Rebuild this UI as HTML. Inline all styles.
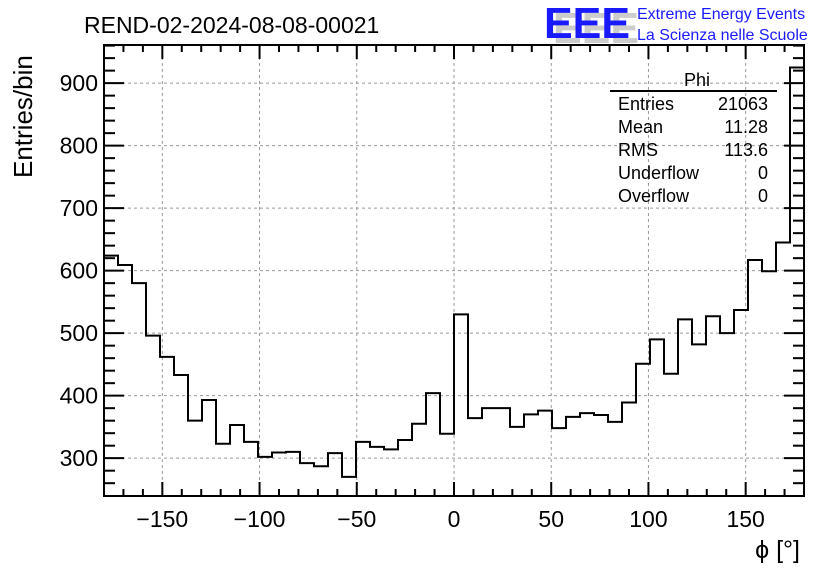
<!DOCTYPE html>
<html><head><meta charset="utf-8"><style>
html,body{margin:0;padding:0;background:#fff;}
svg{display:block;font-family:"Liberation Sans",Arial,sans-serif;}
</style></head><body>
<svg width="836" height="572" viewBox="0 0 836 572" xmlns="http://www.w3.org/2000/svg" id="chart">
<rect width="836" height="572" fill="#fff"/>
<text x="84" y="33" font-size="23">REND-02-2024-08-08-00021</text>
<g>
<text x="547" y="40" font-size="44" font-weight="bold" fill="#ccc" transform="translate(6,3)" textLength="86" lengthAdjust="spacingAndGlyphs">EEE</text>
<text x="544" y="38" font-size="44" font-weight="bold" fill="#1a1aff" textLength="86" lengthAdjust="spacingAndGlyphs">EEE</text>
<text x="637" y="19" font-size="16" fill="#1a1aff">Extreme Energy Events</text>
<text x="637" y="40" font-size="16" fill="#1a1aff">La Scienza nelle Scuole</text>
</g>
<g id="grid"></g>
<g id="hist"></g>
<g id="axes"></g>
<text transform="translate(32,178) rotate(-90)" font-size="26">Entries/bin</text>
<text x="800" y="558" font-size="25" text-anchor="end">ϕ [°]</text>
<g font-size="18">
<text x="697" y="86" text-anchor="middle">Phi</text>
<line x1="610" y1="91" x2="777" y2="91" stroke="#000" stroke-width="2"/>
<text x="618" y="110">Entries</text><text x="768" y="110" text-anchor="end">21063</text>
<text x="618" y="133">Mean</text><text x="768" y="133" text-anchor="end">11.28</text>
<text x="618" y="156">RMS</text><text x="768" y="156" text-anchor="end">113.6</text>
<text x="618" y="179">Underflow</text><text x="768" y="179" text-anchor="end">0</text>
<text x="618" y="202">Overflow</text><text x="768" y="202" text-anchor="end">0</text>
</g>
</svg>
<script>
const binEdgesMin = -180;
const binEdgesMax = 180;
const counts = [624,609,580,496,462,433,360,393,323,353,326,302,309,310,292,287,308,270,326,318,314,329,355,404,339,530,364,380,380,350,370,376,348,366,372,369,358,389,451,490,435,522,482,527,500,537,617,599,645,925];
const xTicks = [-150,-100,-50,0,50,100,150];
const yTicks = [300,400,500,600,700,800,900];
const L=104,R=804,T=45,B=496,YMIN=239.5,YMAX=961;
const NS="http://www.w3.org/2000/svg";
const sx=v=>L+(v-binEdgesMin)/(binEdgesMax-binEdgesMin)*(R-L);
const sy=v=>B-(v-YMIN)/(YMAX-YMIN)*(B-T);
function mk(tag,attrs,parent){const e=document.createElementNS(NS,tag);for(const k in attrs)e.setAttribute(k,attrs[k]);parent.appendChild(e);return e;}
const grid=document.getElementById('grid'),hist=document.getElementById('hist'),axes=document.getElementById('axes');
xTicks.forEach(v=>{const g=mk('line',{x1:sx(v),x2:sx(v),y1:T,y2:B,stroke:'#999','stroke-dasharray':'3,3','stroke-width':1},grid);

});
yTicks.forEach(v=>{const g=mk('line',{x1:L,x2:R,y1:sy(v),y2:sy(v),stroke:'#999','stroke-dasharray':'3,3','stroke-width':1},grid);

});
const n=counts.length,w=(binEdgesMax-binEdgesMin)/n;
let d='M'+sx(binEdgesMin)+','+B;
counts.forEach((c,i)=>{const x0=sx(binEdgesMin+i*w),x1=sx(binEdgesMin+(i+1)*w);d+=' L'+x0+','+sy(c)+' L'+x1+','+sy(c);});
d+=' L'+sx(binEdgesMax)+','+B;
const p=mk('path',{d:d,fill:'none',stroke:'#000','stroke-width':2},hist);


const fr=mk('rect',{x:L,y:T,width:R-L,height:B-T,fill:'none',stroke:'#000','stroke-width':2},axes);


for(let v=-180;v<=180;v+=10){const maj=v%50===0;const len=maj?14:7;
mk('line',{x1:sx(v),x2:sx(v),y1:B,y2:B-len,stroke:'#000','stroke-width':2},axes);
mk('line',{x1:sx(v),x2:sx(v),y1:T,y2:T+len,stroke:'#000','stroke-width':2},axes);}
for(let v=260;v<=960;v+=20){const maj=v%100===0;const len=maj?20:11;
mk('line',{x1:L,x2:L+len,y1:sy(v),y2:sy(v),stroke:'#000','stroke-width':2},axes);
mk('line',{x1:R,x2:R-len,y1:sy(v),y2:sy(v),stroke:'#000','stroke-width':2},axes);}
xTicks.forEach(v=>{const t=mk('text',{x:sx(v),y:527,'font-size':23,'text-anchor':'middle'},axes);t.textContent=(v<0?'\u2212'+(-v):v);

});
yTicks.forEach(v=>{const t=mk('text',{x:98,y:sy(v)+8,'font-size':23,'text-anchor':'end'},axes);t.textContent=v;

});
</script>
</body></html>
